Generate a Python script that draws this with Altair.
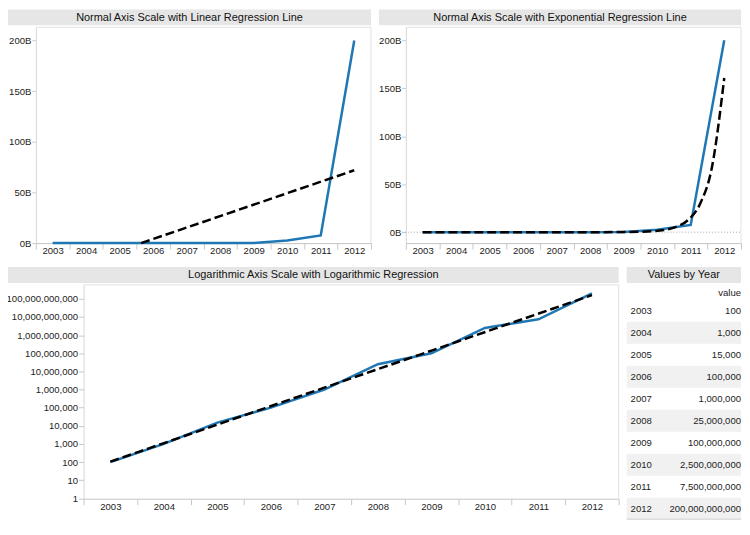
import altair as alt
import pandas as pd

# ---------------- data ----------------
years = [2003, 2004, 2005, 2006, 2007, 2008, 2009, 2010, 2011, 2012]
values = [100, 1000, 15000, 100000, 1000000, 25000000, 100000000,
          2500000000, 7500000000, 200000000000]

title_tl = "Normal Axis Scale with Linear Regression Line"
title_tr = "Normal Axis Scale with Exponential Regression Line"
title_bt = "Logarithmic Axis Scale with Logarithmic Regression"
title_tb = "Values by Year"
table_header = "value"

billion_ticks = [0, 50e9, 100e9, 150e9, 200e9]
log_ticks = [1, 10, 100, 1000, 10000, 100000, 1000000, 10000000, 100000000,
             1000000000, 10000000000, 100000000000]
year_bounds = [2002.5, 2003.5, 2004.5, 2005.5, 2006.5, 2007.5, 2008.5,
               2009.5, 2010.5, 2011.5, 2012.5]

df = pd.DataFrame({"year": years, "value": values})
one = pd.DataFrame({"k": [0]})

# ---------------- layout / style ----------------
W, H = 738, 513
FONT = "Liberation Sans"
BLUE = "#1f77b4"
BAND_FILL = "#e6e6e6"
PANE = "#e2e2e2"
AXIS = "#c4c4c4"
TXT = "#222222"
LBL = 9.6

TL = (28, 365, 18, 235)
TR = (400, 737, 18, 235)
BT = (76, 614, 277, 492)


def xscale(p):
    return alt.Scale(domain=[2002.5, 2012.5], range=[p[0], p[1]], nice=False, zero=False)


def band(x0, x1, y0, y1):
    return alt.Chart(one).mark_rect(color=BAND_FILL).encode(
        x=alt.value(x0), x2=alt.value(x1), y=alt.value(y0), y2=alt.value(y1))


def label(text, x, y, size=11, align="center", color="#111111"):
    return alt.Chart(one).mark_text(font=FONT, fontSize=size, align=align,
                                    baseline="middle", color=color).encode(
        x=alt.value(x), y=alt.value(y), text=alt.value(text))


def frame(p):
    x0, x1, y0, y1 = p
    top = alt.Chart(one).mark_rule(color=PANE, strokeWidth=1).encode(
        x=alt.value(x0), x2=alt.value(x1), y=alt.value(y0))
    right = alt.Chart(one).mark_rule(color=PANE, strokeWidth=1).encode(
        x=alt.value(x1), y=alt.value(y0), y2=alt.value(y1))
    return [top, right]


def year_label_axis(p, pad):
    return alt.Axis(orient="bottom", offset=p[3] - H, values=years, format="d",
                    ticks=False, labelPadding=pad, domain=True, domainColor=AXIS,
                    title=None, grid=False, labelFlush=False, labelOverlap=False)


def year_tick_axis(p):
    return alt.Axis(orient="bottom", offset=p[3] - H, values=year_bounds,
                    labels=False, ticks=True, tickSize=6, domain=False,
                    title=None, grid=False)


def y_axis(p, vals, tick=4, **kw):
    return alt.Axis(orient="left", offset=-p[0], values=vals, tickSize=tick,
                    labelPadding=1, domainColor="#d6d6d6", title=None,
                    grid=False, labelOverlap=False, **kw)


line_style = dict(color=BLUE, strokeWidth=2.5)
reg_style = dict(color="black", strokeWidth=2.5, strokeDash=[9, 4])

# ---------------- top-left: linear regression ----------------
y_tl = alt.Scale(domain=[0, 213e9], range=[TL[3], TL[2]], nice=False, zero=False)
tl_line = alt.Chart(df).mark_line(**line_style).encode(
    x=alt.X("year:Q", scale=xscale(TL), axis=year_label_axis(TL, 2)),
    y=alt.Y("value:Q", scale=y_tl,
            axis=y_axis(TL, billion_ticks,
                        labelExpr="format(datum.value/1e9,'d') + 'B'")))

tl_reg = alt.Chart(df).transform_regression(
    "year", "value", method="linear", params=True
).transform_calculate(
    xa=f"max({years[0]}, -datum.coef[0]/datum.coef[1])", xb=f"{years[-1]}"
).transform_fold(
    ["xa", "xb"], as_=["end", "xr"]
).transform_calculate(
    yr="datum.coef[0] + datum.coef[1]*datum.xr"
).mark_line(**reg_style).encode(
    x=alt.X("xr:Q", scale=xscale(TL), axis=year_tick_axis(TL)),
    y=alt.Y("yr:Q", scale=y_tl, axis=None))


# ---------------- exponential fit (log-linear least squares) ----------------
def exp_fit():
    return alt.Chart(df).transform_calculate(
        lv="log(datum.value)/LN10"
    ).transform_regression(
        "year", "lv", method="poly", order=1
    ).transform_calculate(fit="pow(10, datum.lv)")


# ---------------- top-right ----------------
y_tr = alt.Scale(domain=[-11.4e9, 213.5e9], range=[TR[3], TR[2]], nice=False, zero=False)
tr_zero = alt.Chart(one).mark_rule(color="#a8a8a8", strokeDash=[1, 2], strokeWidth=1).encode(
    y=alt.YDatum(0, scale=y_tr, axis=None), x=alt.value(TR[0] - 4), x2=alt.value(TR[1]))
tr_line = alt.Chart(df).mark_line(**line_style).encode(
    x=alt.X("year:Q", scale=xscale(TR), axis=year_label_axis(TR, 2)),
    y=alt.Y("value:Q", scale=y_tr,
            axis=y_axis(TR, billion_ticks,
                        labelExpr="format(datum.value/1e9,'d') + 'B'")))
tr_reg = exp_fit().mark_line(interpolate="monotone", **reg_style).encode(
    x=alt.X("year:Q", scale=xscale(TR), axis=year_tick_axis(TR)),
    y=alt.Y("fit:Q", scale=y_tr, axis=None))

# ---------------- bottom: log axis ----------------
y_bt = alt.Scale(type="log", domain=[0.95, 5.9e11], range=[BT[3], BT[2]], nice=False)
bt_line = alt.Chart(df).mark_line(**line_style).encode(
    x=alt.X("year:Q", scale=xscale(BT), axis=year_label_axis(BT, 3)),
    y=alt.Y("value:Q", scale=y_bt, axis=y_axis(BT, log_ticks, tick=5, format=",")))
bt_reg = exp_fit().mark_line(interpolate="monotone", **reg_style).encode(
    x=alt.X("year:Q", scale=xscale(BT), axis=year_tick_axis(BT)),
    y=alt.Y("fit:Q", scale=y_bt, axis=None))

# ---------------- table ----------------
rows = alt.Scale(type="band", domain=years, range=[292, 513], paddingInner=0, paddingOuter=0)
tb_shade = alt.Chart(df).transform_filter("datum.year % 2 == 0").mark_rect(color="#f1f1f1").encode(
    y=alt.Y("year:O", scale=rows, axis=None), x=alt.value(622), x2=alt.value(737))
tb_years = alt.Chart(df).mark_text(font=FONT, fontSize=LBL, align="left", baseline="middle",
                                   color=TXT).encode(
    y=alt.Y("year:O", scale=rows, axis=None), x=alt.value(626), text=alt.Text("year:O"))
tb_vals = alt.Chart(df).mark_text(font=FONT, fontSize=LBL, align="right", baseline="middle",
                                  color=TXT).encode(
    y=alt.Y("year:O", scale=rows, axis=None), x=alt.value(737),
    text=alt.Text("value:Q", format=","))
tb_rule = alt.Chart(one).mark_rule(color="#d0d0d0").encode(
    x=alt.value(622), x2=alt.value(737), y=alt.value(512.5))

layers = [
    band(0, TL[1], 0, 16), band(373, TR[1], 0, 16),
    band(0, BT[1], 259, 275), band(622, 737, 259, 275),
    label(title_tl, (0 + TL[1]) / 2, 8.5), label(title_tr, (373 + TR[1]) / 2, 8.5),
    label(title_bt, (0 + BT[1]) / 2, 267.5), label(title_tb, (622 + 737) / 2, 267.5),
    *frame(TL), *frame(TR), *frame(BT),
    tb_shade, tb_years, tb_vals, tb_rule,
    label(table_header, 737, 285, size=LBL, align="right", color=TXT),
    tl_line, tl_reg,
    tr_zero, tr_line, tr_reg,
    bt_line, bt_reg,
]

chart = alt.layer(*layers).resolve_scale(
    x="independent", y="independent"
).resolve_axis(
    x="independent", y="independent"
).properties(
    width=W, height=H, padding=0, autosize=alt.AutoSizeParams(type="none")
).configure_view(
    strokeWidth=0
).configure_axis(
    labelFont=FONT, labelFontSize=LBL, labelColor=TXT,
    tickColor="#c8c8c8", domainColor=AXIS
)

chart.save("out.html", embed_options={"renderer": "svg", "actions": False})
